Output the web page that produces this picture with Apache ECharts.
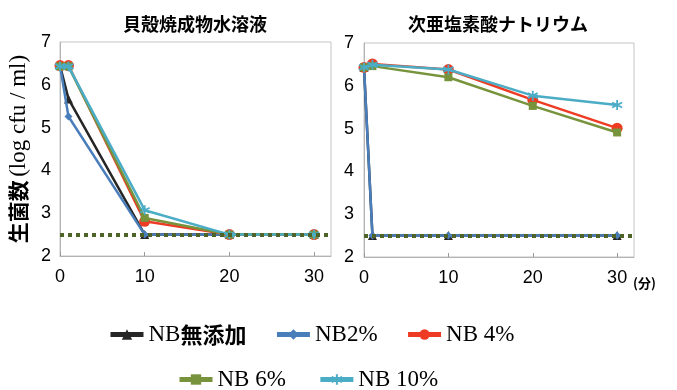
<!DOCTYPE html>
<html>
<head>
<meta charset="utf-8">
<script src="https://cdn.jsdelivr.net/npm/echarts@6/dist/echarts.min.js"></script>
<style>
html,body{margin:0;padding:0;background:#fff;}
#chart{width:677px;height:390px;}
</style>
</head>
<body>
<div id="chart"></div>
<script>
// ---- data ----
var titles = ['貝殻焼成物水溶液', '次亜塩素酸ナトリウム'];
var seriesNames = ['NB無添加', 'NB2%', 'NB 4%', 'NB 6%', 'NB 10%'];
var legendRow1 = ['NB無添加', 'NB2%', 'NB 4%'];
var legendRow2 = ['NB 6%', 'NB 10%'];
var xTicks = [0, 10, 20, 30];
var threshold = 2.5;

// left chart: 貝殻焼成物水溶液  (time in minutes, log cfu/ml)
var shellNone = [[0, 6.45], [1, 5.67], [10, 2.5], [20, 2.5], [30, 2.5]];
var shellNB2  = [[0, 6.45], [1, 5.26], [10, 2.5], [20, 2.5], [30, 2.5]];
var shellNB4  = [[0, 6.45], [1, 6.45], [10, 2.81], [20, 2.5], [30, 2.5]];
var shellNB6  = [[0, 6.43], [1, 6.43], [10, 2.89], [20, 2.5], [30, 2.5]];
var shellNB10 = [[0, 6.43], [1, 6.43], [10, 3.07], [20, 2.5], [30, 2.5]];

// right chart: 次亜塩素酸ナトリウム
var hypoNone = [[0, 6.43], [1, 2.5], [10, 2.5], [30, 2.5]];
var hypoNB2  = [[0, 6.43], [1, 2.5], [10, 2.5], [30, 2.5]];
var hypoNB4  = [[0, 6.43], [1, 6.51], [10, 6.38], [20, 5.67], [30, 5.01]];
var hypoNB6  = [[0, 6.43], [1, 6.46], [10, 6.2], [20, 5.53], [30, 4.91]];
var hypoNB10 = [[0, 6.43], [1, 6.49], [10, 6.38], [20, 5.77], [30, 5.55]];

// ---- styles ----
var colors = ['#262626', '#4A7EBB', '#EE3B24', '#77933C', '#4BACC6'];
var symbols = ['triangle', 'diamond', 'circle', 'rect',
  'path://M10,0L10,20M1.34,5L18.66,15M1.34,15L18.66,5'];
var symbolSizes = [9, 8, 11, 8, 10];
var SANS = "'Liberation Sans', Arial, sans-serif";
var SERIF = "'Liberation Serif', 'Times New Roman', serif";
var CJK = "'Noto Sans CJK JP', sans-serif";

var leftData = [shellNone, shellNB2, shellNB4, shellNB6, shellNB10];
var rightData = [hypoNone, hypoNB2, hypoNB4, hypoNB6, hypoNB10];

function makeSeries(dataSets, idx) {
  return dataSets.map(function (d, i) {
    var s = {
      name: seriesNames[i],
      type: 'line',
      xAxisIndex: idx,
      yAxisIndex: idx,
      data: d,
      symbol: symbols[i],
      symbolSize: symbolSizes[i],
      showAllSymbol: true,
      lineStyle: { color: colors[i], width: 2.5 },
      itemStyle: i === 4
        ? { color: colors[i], borderColor: colors[i], borderWidth: 1.8 }
        : { color: colors[i], borderColor: colors[i], borderWidth: 0 },
      z: 2 + i
    };
    if (i === 4) {
      s.markLine = {
        silent: true,
        symbol: 'none',
        label: { show: false },
        z: 20,
        lineStyle: { color: '#4F6228', width: 4, type: [4, 4] },
        data: [{ yAxis: threshold }]
      };
    }
    return s;
  });
}

function xAxis(idx, extra) {
  var a = {
    type: 'value',
    gridIndex: idx,
    min: 0,
    max: 32,
    interval: 10,
    axisLine: { lineStyle: { color: '#b3b3b3', width: 1 } },
    axisTick: { show: true, inside: true, length: 4, lineStyle: { color: '#9a9a9a' } },
    splitLine: { show: false },
    axisLabel: { color: '#000', fontSize: 18, fontFamily: SANS, margin: 12, showMaxLabel: false }
  };
  for (var k in extra) a[k] = extra[k];
  return a;
}

function yAxis(idx, extra) {
  var a = {
    type: 'value',
    gridIndex: idx,
    min: 2,
    max: 7,
    interval: 1,
    axisLine: { show: true, lineStyle: { color: '#b3b3b3', width: 1 } },
    axisTick: { show: false },
    splitLine: { show: false },
    axisLabel: { color: '#000', fontSize: 18, fontFamily: SANS, margin: 9 }
  };
  for (var k in extra) a[k] = extra[k];
  return a;
}

var legendText = {
  color: '#000',
  fontSize: 23,
  fontFamily: SERIF,
  rich: {
    s: { fontSize: 23, fontFamily: SERIF, color: '#000' },
    k: { fontSize: 22, fontFamily: CJK, fontWeight: 'bold', color: '#000' }
  }
};
function legendFmt(name) {
  if (name === 'NB無添加') return '{s|NB}{k|無添加}';
  return '{s|' + name + '}';
}

var chart = echarts.init(document.getElementById('chart'), null, { renderer: 'canvas' });
chart.setOption({
  animation: false,
  backgroundColor: '#fff',
  title: [
    { text: titles[0], left: 190, top: 10, textAlign: 'center',
      textStyle: { fontSize: 18, fontWeight: 'bold', fontFamily: CJK, color: '#000' } },
    { text: titles[1], left: 493, top: 10, textAlign: 'center',
      textStyle: { fontSize: 18, fontWeight: 'bold', fontFamily: CJK, color: '#000' } }
  ],
  legend: [
    { data: legendRow1, left: 103, top: 318, itemWidth: 33, itemHeight: 13, itemGap: 28,
      textStyle: legendText, formatter: legendFmt, lineStyle: { width: 5 } },
    { data: legendRow2, left: 172, top: 363, itemWidth: 33, itemHeight: 13, itemGap: 32,
      textStyle: legendText, formatter: legendFmt, lineStyle: { width: 5 } }
  ],
  grid: [
    { left: 60, top: 42, width: 271, height: 214, show: true, borderColor: '#c4c4c4', borderWidth: 1 },
    { left: 364, top: 43, width: 270, height: 214, show: true, borderColor: '#c4c4c4', borderWidth: 1 }
  ],
  xAxis: [
    xAxis(0, {}),
    xAxis(1, {
      name: '(分)', nameLocation: 'end', nameGap: -3,
      nameTextStyle: { fontSize: 13, fontWeight: 'bold', fontFamily: CJK, color: '#000',
        verticalAlign: 'top', align: 'left', padding: [20, 0, 0, 0] }
    })
  ],
  yAxis: [
    yAxis(0, {
      name: '{a|生菌数} {b|(log cfu / ml)}',
      nameLocation: 'middle',
      nameGap: 30,
      nameTextStyle: {
        rich: {
          a: { fontSize: 21, fontWeight: 'bold', fontFamily: CJK, color: '#000' },
          b: { fontSize: 23, fontFamily: SERIF, color: '#000' }
        }
      }
    }),
    yAxis(1, { axisLabel: { color: '#000', fontSize: 18, fontFamily: SANS, margin: 10 } })
  ],
  series: makeSeries(leftData, 0).concat(makeSeries(rightData, 1))
});
</script>
</body>
</html>
